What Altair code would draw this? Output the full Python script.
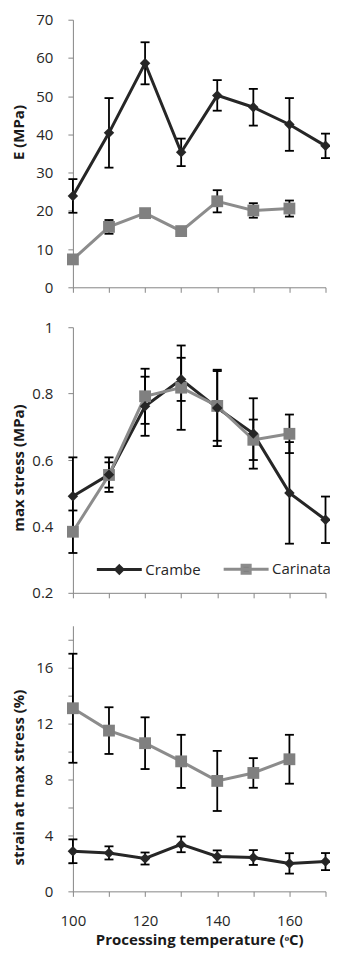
import altair as alt
import pandas as pd

# ---------------- data ----------------
temps = [100, 110, 120, 130, 140, 150, 160, 170]
series_names = ["Crambe", "Carinata"]

E_crambe = [23.9, 40.4, 58.6, 35.3, 50.2, 47.1, 42.6, 37.0]
E_crambe_err = [4.4, 9.1, 5.5, 3.6, 4.0, 4.8, 6.9, 3.2]
E_carinata = [7.3, 15.8, 19.4, 14.7, 22.5, 20.1, 20.6]
E_carinata_err = [0.8, 1.8, 0.8, 0.8, 2.9, 1.9, 2.1]

S_crambe = [0.491, 0.556, 0.762, 0.843, 0.757, 0.680, 0.501, 0.420]
S_crambe_err = [0.117, 0.052, 0.089, 0.065, 0.115, 0.106, 0.153, 0.070]
S_carinata = [0.384, 0.555, 0.792, 0.818, 0.763, 0.661, 0.679]
S_carinata_err = [0.064, 0.038, 0.083, 0.127, 0.105, 0.061, 0.058]

D_crambe = [2.87, 2.75, 2.35, 3.36, 2.50, 2.42, 2.00, 2.13]
D_crambe_err = [0.85, 0.47, 0.43, 0.56, 0.43, 0.53, 0.73, 0.61]
D_carinata = [13.1, 11.5, 10.6, 9.3, 7.9, 8.47, 9.45]
D_carinata_err = [3.9, 1.67, 1.85, 1.9, 2.15, 1.06, 1.75]

x_ticks = [100, 110, 120, 130, 140, 150, 160, 170]
E_ticks = [0, 10, 20, 30, 40, 50, 60, 70]
S_ticks = [0.2, 0.4, 0.6, 0.8, 1.0]
D_ticks = [0, 2, 4, 6, 8, 10, 12, 14, 16, 18]

# ---------------- styling ----------------
FONT = "Open Sans"
C_CRAMBE = "#262626"
C_CARINATA_LINE = "#8c8c8c"
C_CARINATA_MARK = "#808080"
PLOT_W = 253


def frame(crambe, crambe_err, carinata, carinata_err):
    rows = []
    for name, vals, errs in (("Crambe", crambe, crambe_err), ("Carinata", carinata, carinata_err)):
        for t, v, e in zip(temps, vals, errs):
            rows.append({"temp": t, "series": name, "value": v, "lo": v - e, "hi": v + e})
    return pd.DataFrame(rows)


def panel(df, ydomain, yticks, ytitle, height, title_x, title_y, ylabel_expr=None,
          ylabel_format=None, bottom=False, legend=False):
    if bottom:
        xaxis = alt.Axis(values=x_ticks, title="Processing temperature (ᵒC)",
                         labelExpr="datum.value % 20 == 0 ? datum.label : ''",
                         labelPadding=17, titlePadding=4)
    else:
        xaxis = alt.Axis(values=x_ticks, labels=False, title=None)
    yaxis_kwargs = dict(values=yticks, title=ytitle, titleX=title_x, titleY=title_y,
                        titleAngle=-90, titleBaseline="bottom")
    if ylabel_expr:
        yaxis_kwargs["labelExpr"] = ylabel_expr
    if ylabel_format:
        yaxis_kwargs["format"] = ylabel_format
    xscale = alt.Scale(domain=[100, 170], nice=False, zero=False)
    yscale = alt.Scale(domain=ydomain, nice=False, zero=False)
    base = alt.Chart(df)
    xs = alt.X("temp:Q", scale=xscale, axis=xaxis)

    def ys(field):
        return alt.Y(field, scale=yscale, axis=alt.Axis(**yaxis_kwargs))

    rules = base.mark_rule(color="black", strokeWidth=1.8).encode(
        x=xs, y=ys("lo:Q"), y2="hi:Q")
    cap_lo = base.mark_tick(color="black", orient="horizontal", size=9, thickness=1.8,
                            opacity=1).encode(x=xs, y=ys("lo:Q"))
    cap_hi = base.mark_tick(color="black", orient="horizontal", size=9, thickness=1.8,
                            opacity=1).encode(x=xs, y=ys("hi:Q"))
    line_cr = base.transform_filter(alt.datum.series == "Crambe").mark_line(
        color=C_CRAMBE, strokeWidth=3).encode(x=xs, y=ys("value:Q"))
    line_ca = base.transform_filter(alt.datum.series == "Carinata").mark_line(
        color=C_CARINATA_LINE, strokeWidth=3).encode(x=xs, y=ys("value:Q"))
    pt_cr = base.transform_filter(alt.datum.series == "Crambe").mark_point(
        shape="diamond", filled=True, size=110, color=C_CRAMBE, opacity=1).encode(
        x=xs, y=ys("value:Q"))
    pt_ca = base.transform_filter(alt.datum.series == "Carinata").mark_point(
        shape="square", filled=True, size=140, color=C_CARINATA_MARK, opacity=1).encode(
        x=xs, y=ys("value:Q"))
    layers = [line_cr, rules, cap_lo, cap_hi, line_ca, pt_ca, pt_cr]
    if legend:
        path_cr = "M-1,0L1,0M0,-0.16L0.16,0L0,0.16L-0.16,0Z"
        path_ca = "M-1,0L1,0M-0.18,-0.18L0.18,-0.18L0.18,0.18L-0.18,0.18Z"
        leg = alt.Legend(orient="none", legendX=22.5, legendY=218, direction="horizontal",
                         title=None, symbolSize=2025, symbolStrokeWidth=3, symbolOpacity=1,
                         labelFont=FONT, labelFontSize=15, labelColor="#262626",
                         labelOffset=2, columnPadding=16, padding=0)
        dom = series_names
        leg_layer = base.transform_filter("datum.value > 1000").mark_point(
            filled=True, size=2025, opacity=1, strokeWidth=3).encode(
            x=xs, y=ys("value:Q"),
            shape=alt.Shape("series:N", scale=alt.Scale(domain=dom, range=[path_cr, path_ca]),
                            legend=leg),
            fill=alt.Fill("series:N", scale=alt.Scale(domain=dom, range=[C_CRAMBE, C_CARINATA_MARK]),
                          legend=leg),
            stroke=alt.Stroke("series:N", scale=alt.Scale(domain=dom, range=[C_CRAMBE, C_CARINATA_LINE]),
                              legend=leg),
        )
        layers.append(leg_layer)
    return alt.layer(*layers).properties(width=PLOT_W, height=height)


p1 = panel(frame(E_crambe, E_crambe_err, E_carinata, E_carinata_err), [0, 70], E_ticks,
           "E (MPa)", 268, -46, 112.5)
p2 = panel(frame(S_crambe, S_crambe_err, S_carinata, S_carinata_err), [0.2, 1.0], S_ticks,
           "max stress (MPa)", 266, -46, 140.5, ylabel_format="~g", legend=True)
p3 = panel(frame(D_crambe, D_crambe_err, D_carinata, D_carinata_err), [0, 19], D_ticks,
           "strain at max stress (%)", 266, -46, 151.5,
           ylabel_expr="datum.value % 4 == 0 ? datum.label : ''", bottom=True)

chart = alt.vconcat(p1, p2, p3, spacing=25).resolve_scale(
    shape="independent", fill="independent", stroke="independent"
).resolve_legend(
    shape="independent", fill="independent", stroke="independent"
).properties(
    padding={"left": 4, "top": 4, "right": -1.5, "bottom": 0}
).configure_view(stroke=None).configure_axis(
    grid=False, domainColor="#868686", domainWidth=1, tickColor="#868686", tickSize=5,
    labelFont=FONT, labelFontSize=15, labelColor="#262626", labelPadding=15,
    labelOverlap=False, labelFlush=False, labelBound=False,
    titleFont=FONT, titleFontSize=15, titleFontWeight="bold", titleColor="#1a1a1a",
)

chart.save("out.html", embed_options={"renderer": "svg", "actions": False})
